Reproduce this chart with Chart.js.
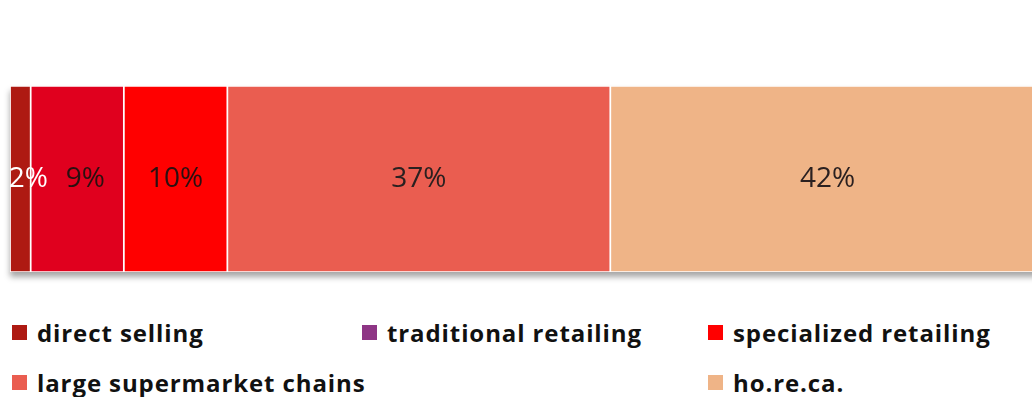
<!DOCTYPE html>
<html lang="en">

<head>
  <meta charset="UTF-8">
  <title>Sales channels</title>
  <script src="https://cdn.jsdelivr.net/npm/chart.js"></script>
  <style>
    html, body { margin: 0; padding: 0; background: #fff; overflow: hidden; width: 1032px; height: 397px; }
    .chart-box { position: absolute; left: 0; top: 0; width: 1055px; height: 292px; }
    .legend {
      position: absolute; left: 12px; top: 318px;
      display: grid; grid-template-columns: 350px 346px 320px; row-gap: 22px;
      font-family: "Open Sans", sans-serif; font-weight: 700; font-size: 24px; letter-spacing: 0.9px; color: #111;
    }
    .legend .item { display: flex; align-items: center; height: 28px; white-space: nowrap; }
    .legend .swatch { width: 15px; height: 15px; margin-right: 10px; flex: none; }
    .legend .item:nth-child(5) { grid-column: 3; }
  </style>
</head>

<body>

  <div class="chart-box"><canvas id="channelChart"></canvas></div>
  <div class="legend" id="legend"></div>

  <script>
    // share of sales per channel (%)
    const channels = ['direct selling', 'traditional retailing', 'specialized retailing', 'large supermarket chains', 'ho.re.ca.'];
    const shares = [2, 9, 10, 37, 42];
    const barColors = ['#ae1a12', '#e0001e', '#ff0000', '#ea5d50', '#efb487'];
    const legendColors = ['#ae1a12', '#8e3585', '#ff0000', '#ea5d50', '#efb487'];
    const labelColors = ['#ffffff', '#2a1010', '#2a1010', '#2a2020', '#2a2020'];

    // soft drop shadow under the whole bar
    const barShadow = {
      id: 'barShadow',
      beforeDatasetsDraw(chart) {
        const metas = chart.getSortedVisibleDatasetMetas();
        if (!metas.length) return;
        const first = metas[0].data[0];
        const last = metas[metas.length - 1].data[0];
        const top = first.y - first.height / 2;
        const ctx = chart.ctx;
        ctx.save();
        ctx.shadowColor = 'rgba(0,0,0,0.35)';
        ctx.shadowBlur = 6;
        ctx.shadowOffsetY = 5;
        ctx.fillStyle = '#fff';
        ctx.fillRect(first.base, top, last.x - first.base, first.height);
        ctx.restore();
      }
    };

    // percentage text on each segment; the two narrow ones sit a little to the right
    const segmentLabels = {
      id: 'segmentLabels',
      afterDatasetsDraw(chart) {
        const ctx = chart.ctx;
        const area = chart.chartArea;
        ctx.save();
        ctx.beginPath();
        ctx.rect(area.left, area.top, area.right - area.left, area.bottom - area.top);
        ctx.clip();
        ctx.font = '28px "Open Sans", sans-serif';
        ctx.textAlign = 'center';
        ctx.textBaseline = 'middle';
        chart.getSortedVisibleDatasetMetas().forEach((meta) => {
          const bar = meta.data[0];
          const i = meta.index;
          ctx.fillStyle = labelColors[i];
          const cx = (bar.base + bar.x) / 2 + (i < 2 ? 8 : 0);
          ctx.fillText(shares[i] + '%', cx, bar.y);
        });
        ctx.restore();
      }
    };

    new Chart(document.getElementById('channelChart'), {
      type: 'bar',
      data: {
        labels: [''],
        datasets: channels.map((name, i) => ({
          label: name,
          data: [shares[i]],
          backgroundColor: barColors[i],
          borderColor: '#ffffff',
          borderWidth: 1.2,
          borderSkipped: false,
          barPercentage: 1,
          categoryPercentage: 1
        }))
      },
      options: {
        indexAxis: 'y',
        responsive: true,
        maintainAspectRatio: false,
        animation: false,
        layout: { padding: { left: 10, right: 10, top: 86, bottom: 20 } },
        scales: {
          x: { stacked: true, min: 0, max: 100, display: false },
          y: { stacked: true, display: false }
        },
        plugins: {
          legend: { display: false },
          tooltip: { enabled: false }
        }
      },
      plugins: [barShadow, segmentLabels]
    });

    // legend below the bar
    const legendBox = document.getElementById('legend');
    channels.forEach((name, i) => {
      const item = document.createElement('div');
      item.className = 'item';
      const sw = document.createElement('span');
      sw.className = 'swatch';
      sw.style.background = legendColors[i];
      const txt = document.createElement('span');
      txt.textContent = name;
      item.appendChild(sw);
      item.appendChild(txt);
      legendBox.appendChild(item);
    });
  </script>

</body>

</html>
